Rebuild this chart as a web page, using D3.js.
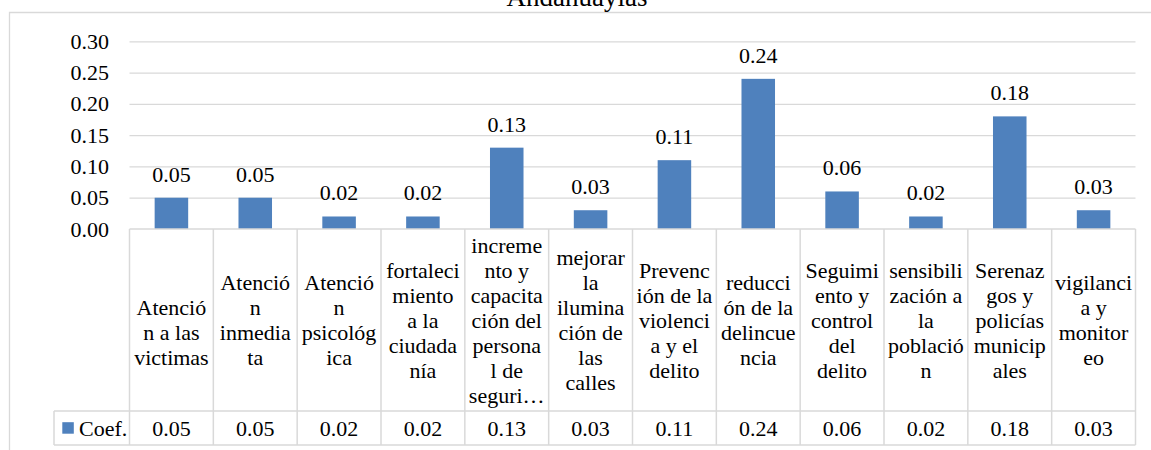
<!DOCTYPE html>
<html>
<head>
<meta charset="utf-8">
<script src="https://cdn.jsdelivr.net/npm/d3@7/dist/d3.min.js"></script>
<style>
  html, body { margin: 0; padding: 0; background: #fff; }
  svg { display: block; }
  text { font-family: "Liberation Serif", "Times New Roman", serif; fill: #000; }
</style>
</head>
<body>
<svg id="chart" width="1151" height="450"></svg>
<script>
// ---- data ----
const title = "Andahuaylas";
const seriesName = "Coef.";
const categories = [
  "Atención a las victimas",
  "Atención inmediata",
  "Atención psicológica",
  "fortalecimiento a la ciudadanía",
  "incremento y capacitación del personal de seguridad",
  "mejorar la iluminación de las calles",
  "Prevención de la violencia y el delito",
  "reducción de la delincuencia",
  "Seguimiento y control del delito",
  "sensibilización a la población",
  "Serenazgos y policías municipales",
  "vigilancia y monitoreo"
];
// wrapped lines as shown in the data table
const categoryLines = [
  ["", "Atenció", "n a las", "victimas"],
  ["Atenció", "n", "inmedia", "ta"],
  ["Atenció", "n", "psicolög", "ica"].map(s => s.replace("ö", "ó")),
  ["fortaleci", "miento", "a la", "ciudada", "nía"],
  ["increme", "nto y", "capacita", "ción del", "persona", "l de", "seguri…"],
  ["mejorar", "la", "ilumina", "ción de", "las", "calles"],
  ["Prevenc", "ión de la", "violenci", "a y el", "delito"],
  ["reducci", "ón de la", "delincue", "ncia"],
  ["Seguimi", "ento y", "control", "del", "delito"],
  ["sensibili", "zación a", "la", "població", "n"],
  ["Serenaz", "gos y", "policías", "municip", "ales"],
  ["vigilanci", "a y", "monitor", "eo"]
];
const values = [0.05, 0.05, 0.02, 0.02, 0.13, 0.03, 0.11, 0.24, 0.06, 0.02, 0.18, 0.03];
const yTicks = [0, 0.05, 0.10, 0.15, 0.20, 0.25, 0.30];

// ---- layout ----
const svg = d3.select("#chart");
const left = 129.5, right = 1135.5;
const yTop = 41.3, yBase = 229;
const rowTop = 229, rowMid = 411, rowBottom = 445;
const legendLeft = 54;
const gridColor = "#d9d9d9";
const barColor = "#4f81bd";
const fs = 22;

const x = d3.scaleBand().domain(categories).range([left, right]).padding(0);
const y = d3.scaleLinear().domain([0, 0.30]).range([yBase, yTop]);

// outer chart border
svg.append("path")
  .attr("d", `M9.5,460 L9.5,12.5 L1160,12.5`)
  .attr("fill", "none").attr("stroke", gridColor).attr("stroke-width", 1.3);

// title
svg.append("text")
  .attr("x", 577).attr("y", 6)
  .attr("text-anchor", "middle")
  .style("font-size", "27px")
  .text(title);

// gridlines
const grid = svg.append("g").attr("transform", `translate(${left},0)`)
  .call(d3.axisLeft(y).tickValues(yTicks.filter(d => d > 0)).tickSize(-(right - left)).tickFormat(""));
grid.select(".domain").remove();
grid.selectAll("line").attr("stroke", gridColor).attr("stroke-width", 1.3);

// y axis labels
const yAxis = svg.append("g").attr("transform", `translate(${left},0)`)
  .call(d3.axisLeft(y).tickValues(yTicks).tickSize(0).tickPadding(20.5).tickFormat(d3.format(".2f")));
yAxis.select(".domain").remove();
yAxis.selectAll("text").style("font-size", fs + "px").attr("fill", "#000")
  .style("font-family", '"Liberation Serif", serif');

// bars
const bw = x.bandwidth() * 0.4;
svg.append("g").selectAll("rect").data(categories).join("rect")
  .attr("x", (d, i) => x(d) + (x.bandwidth() - bw) / 2)
  .attr("y", (d, i) => y(values[i]))
  .attr("width", bw)
  .attr("height", (d, i) => y(0) - y(values[i]))
  .attr("fill", barColor);

// data labels
svg.append("g").selectAll("text").data(categories).join("text")
  .attr("x", d => x(d) + x.bandwidth() / 2)
  .attr("y", (d, i) => y(values[i]) - 16)
  .attr("text-anchor", "middle")
  .style("font-size", fs + "px")
  .text((d, i) => d3.format(".2f")(values[i]));

// data table grid
const tbl = svg.append("g").attr("stroke", gridColor).attr("stroke-width", 1.5).attr("fill", "none");
tbl.append("line").attr("x1", left).attr("x2", right).attr("y1", rowTop).attr("y2", rowTop);
tbl.append("line").attr("x1", legendLeft).attr("x2", right).attr("y1", rowMid).attr("y2", rowMid);
tbl.append("line").attr("x1", legendLeft).attr("x2", right).attr("y1", rowBottom).attr("y2", rowBottom);
tbl.append("line").attr("x1", legendLeft).attr("x2", legendLeft).attr("y1", rowMid).attr("y2", rowBottom);
const bounds = categories.map(d => x(d)).concat([right]);
tbl.selectAll("line.v").data(bounds).join("line").attr("class", "v")
  .attr("x1", d => d).attr("x2", d => d).attr("y1", rowTop).attr("y2", rowBottom);

// category labels
const lh = 25;
const cellMid = (rowTop + rowMid) / 2;
const catG = svg.append("g").selectAll("text").data(categories).join("text")
  .attr("text-anchor", "middle")
  .style("font-size", fs + "px");
catG.each(function (d, i) {
  const lines = categoryLines[i];
  const n = lines.length;
  const cx = x(d) + x.bandwidth() / 2;
  const first = cellMid + 7.5 - (n - 1) * lh / 2;
  d3.select(this).selectAll("tspan").data(lines).join("tspan")
    .attr("x", cx)
    .attr("y", (l, j) => first + j * lh)
    .text(l => l);
});

// legend row
const rowC = (rowMid + rowBottom) / 2;
svg.append("rect").attr("x", 62.3).attr("y", rowC - 5.8).attr("width", 11.5).attr("height", 11.5).attr("fill", barColor);
svg.append("text").attr("x", 79).attr("y", rowC + 7.5).style("font-size", fs + "px").text(seriesName);
svg.append("g").selectAll("text").data(categories).join("text")
  .attr("x", d => x(d) + x.bandwidth() / 2)
  .attr("y", rowC + 7.5)
  .attr("text-anchor", "middle")
  .style("font-size", fs + "px")
  .text((d, i) => d3.format(".2f")(values[i]));
</script>
</body>
</html>
